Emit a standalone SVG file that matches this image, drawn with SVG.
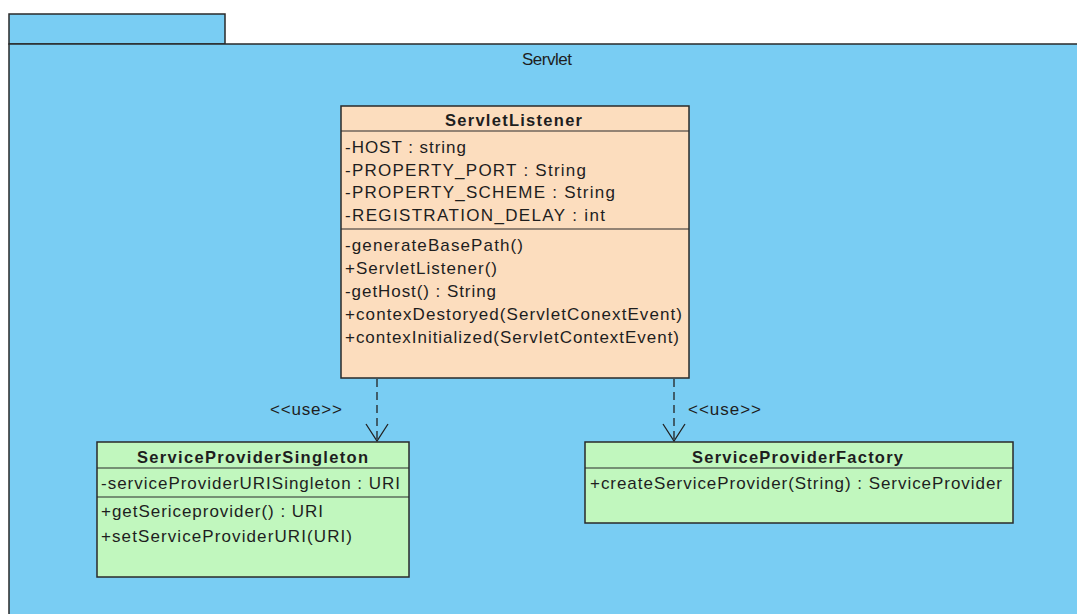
<svg xmlns="http://www.w3.org/2000/svg" width="1077" height="614" viewBox="0 0 1077 614">
<style>
.pkg{fill:#79CDF3;stroke:#2a2a2a;stroke-width:1.5}
.cls{stroke:#2a2a2a;stroke-width:1.5}
.peach{fill:#FCDDBE}
.green{fill:#C1F7BE}
.sep{stroke:#2a2a2a;stroke-width:1.2}
text{font-family:"Liberation Sans",Arial,sans-serif;font-size:17px;fill:#1e1e1e}
.t{font-weight:bold;font-size:16.5px}
.c{stroke:#222;stroke-width:1.3;fill:none}
</style>
<rect width="1077" height="614" fill="#ffffff"/>
<g id="package-Servlet">
<rect class="pkg" x="9" y="14" width="216" height="30"/>
<rect class="pkg" x="9" y="44" width="1080" height="580"/>
<text x="547" y="65" text-anchor="middle" textLength="50" lengthAdjust="spacing">Servlet</text>
</g>
<g id="connectors">
<line class="c" x1="377" y1="379" x2="377" y2="440" stroke-dasharray="8,5"/>
<polyline class="c" points="366,424 377,441 388,424"/>
<text x="270" y="415" textLength="72" lengthAdjust="spacing">&lt;&lt;use&gt;&gt;</text>
<line class="c" x1="674" y1="379" x2="674" y2="440" stroke-dasharray="8,5"/>
<polyline class="c" points="663,424 674,441 685,424"/>
<text x="688" y="415" textLength="73" lengthAdjust="spacing">&lt;&lt;use&gt;&gt;</text>
</g>
<g id="ServletListener">
<rect class="cls peach" x="341" y="106" width="348" height="272"/>
<line class="sep" x1="341" y1="131" x2="689" y2="131"/>
<line class="sep" x1="341" y1="229" x2="689" y2="229"/>
<text class="t" x="445" y="126" textLength="137" lengthAdjust="spacing">ServletListener</text>
<text x="345" y="153" textLength="121" lengthAdjust="spacing">-HOST : string</text>
<text x="345" y="176" textLength="241" lengthAdjust="spacing">-PROPERTY_PORT : String</text>
<text x="345" y="198" textLength="270" lengthAdjust="spacing">-PROPERTY_SCHEME : String</text>
<text x="345" y="221" textLength="260" lengthAdjust="spacing">-REGISTRATION_DELAY : int</text>
<text x="345" y="251" textLength="178" lengthAdjust="spacing">-generateBasePath()</text>
<text x="345" y="274" textLength="152" lengthAdjust="spacing">+ServletListener()</text>
<text x="345" y="297" textLength="151" lengthAdjust="spacing">-getHost() : String</text>
<text x="345" y="320" textLength="337" lengthAdjust="spacing">+contexDestoryed(ServletConextEvent)</text>
<text x="345" y="343" textLength="334" lengthAdjust="spacing">+contexInitialized(ServletContextEvent)</text>
</g>
<g id="ServiceProviderSingleton">
<rect class="cls green" x="97" y="442" width="312" height="135"/>
<line class="sep" x1="97" y1="468" x2="409" y2="468"/>
<line class="sep" x1="97" y1="497" x2="409" y2="497"/>
<text class="t" x="137" y="463" textLength="231" lengthAdjust="spacing">ServiceProviderSingleton</text>
<text x="101" y="489" textLength="299" lengthAdjust="spacing">-serviceProviderURISingleton : URI</text>
<text x="101" y="517" textLength="222" lengthAdjust="spacing">+getSericeprovider() : URI</text>
<text x="101" y="542" textLength="251" lengthAdjust="spacing">+setServiceProviderURI(URI)</text>
</g>
<g id="ServiceProviderFactory">
<rect class="cls green" x="585" y="442" width="428" height="81"/>
<line class="sep" x1="585" y1="468" x2="1013" y2="468"/>
<text class="t" x="692" y="463" textLength="211" lengthAdjust="spacing">ServiceProviderFactory</text>
<text x="590" y="489" textLength="412" lengthAdjust="spacing">+createServiceProvider(String) : ServiceProvider</text>
</g>
</svg>
